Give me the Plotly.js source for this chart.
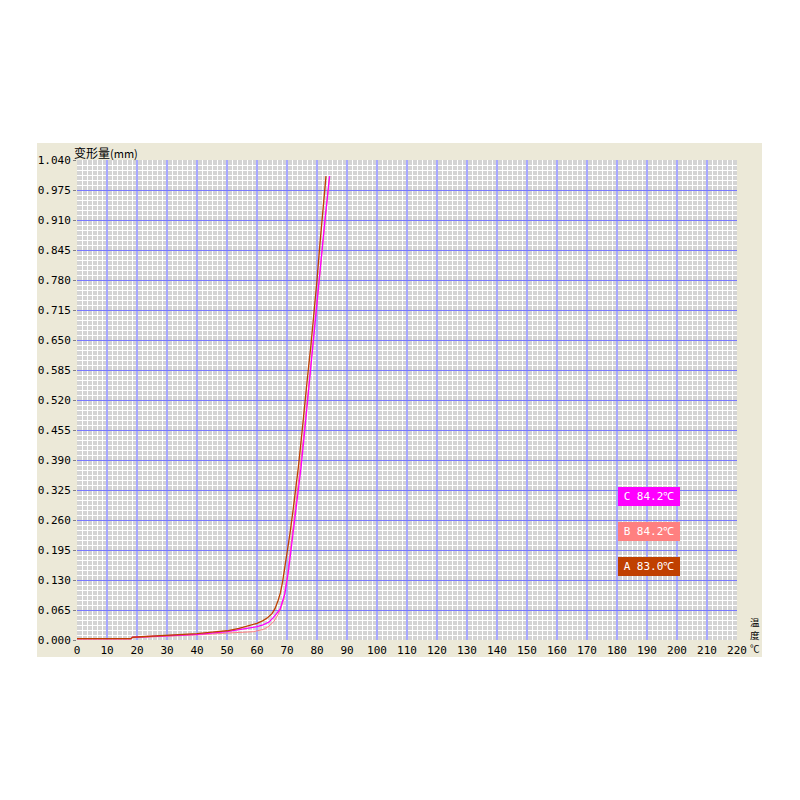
<!DOCTYPE html>
<html>
<head>
<meta charset="utf-8">
<script src="https://cdn.plot.ly/plotly-3.0.1.min.js"></script>
<style>html,body{margin:0;padding:0;background:#fff;}#chart{width:800px;height:800px;}</style>
</head>
<body>
<div id="chart"></div>
<script>
// Sample A (brown)
const tempA = [0, 18, 18.5, 25, 30, 35, 40, 45, 50, 54, 57, 60, 62, 63.5, 65, 66, 67, 67.8, 68.5, 69.5, 70, 71, 72, 73, 73.8, 75, 76, 77, 78, 78.8, 80, 81, 82, 82.7, 83.0];
const defA  = [0.003, 0.003, 0.006, 0.008, 0.010, 0.012, 0.014, 0.017, 0.020, 0.025, 0.030, 0.036, 0.042, 0.048, 0.057, 0.068, 0.085, 0.102, 0.125, 0.165, 0.19, 0.231, 0.28, 0.33, 0.375, 0.45, 0.52, 0.58, 0.64, 0.693, 0.78, 0.86, 0.94, 1.0, 1.005];
// Sample B (salmon)
const tempB = [0, 18, 18.5, 30, 40, 50, 55, 58.8, 62.2, 64, 65.6, 67, 68, 69, 70.3, 71.8, 73, 74.4, 76, 78, 79.4, 81, 82.5, 84.0, 84.2];
const defB  = [0.002, 0.002, 0.005, 0.008, 0.011, 0.015, 0.016, 0.018, 0.023, 0.030, 0.040, 0.055, 0.070, 0.090, 0.15, 0.231, 0.29, 0.375, 0.47, 0.60, 0.70, 0.80, 0.90, 1.0, 1.005];
// Sample C (magenta)
const tempC = [0, 18, 18.5, 30, 40, 50, 55, 58, 60, 62, 64, 65.5, 66.6, 67.7, 68.5, 69.3, 70.5, 72.1, 73, 74.7, 76, 78, 79.6, 81, 82.5, 84.1, 84.2];
const defC  = [0.003, 0.003, 0.006, 0.009, 0.012, 0.018, 0.023, 0.026, 0.029, 0.033, 0.039, 0.049, 0.058, 0.067, 0.084, 0.101, 0.15, 0.231, 0.28, 0.375, 0.46, 0.60, 0.70, 0.80, 0.90, 1.0, 1.005];

const seriesNames = ['C', 'B', 'A'];
const seriesResults = ['84.2', '84.2', '83.0'];
const legendY = [0.31, 0.235, 0.16];

const xTicks = [0,10,20,30,40,50,60,70,80,90,100,110,120,130,140,150,160,170,180,190,200,210,220];
const yTicks = [0.000,0.065,0.130,0.195,0.260,0.325,0.390,0.455,0.520,0.585,0.650,0.715,0.780,0.845,0.910,0.975,1.040];

const colA = '#c04000', colB = '#ff8080', colC = '#ff00ff';
const colors = [colC, colB, colA];

// minor gridline positions: 6 subdivisions per major cell, excluding the majors
function minorVals(majors) {
  const out = [];
  for (let i = 0; i < majors.length - 1; i++) {
    const a = majors[i], b = majors[i + 1];
    for (let k = 1; k < 6; k++) out.push(a + (b - a) * k / 6);
  }
  return out;
}

const traces = [
  {x: tempB, y: defB, mode: 'lines', line: {color: colB, width: 1}, hoverinfo: 'skip'},
  {x: tempC, y: defC, mode: 'lines', line: {color: colC, width: 1.3}, hoverinfo: 'skip'},
  {x: tempA, y: defA, mode: 'lines', line: {color: colA, width: 1.3}, hoverinfo: 'skip'}
];

const tickFont = {family: 'DejaVu Sans Mono, monospace', size: 11, color: '#000'};

const annotations = seriesNames.map((n, i) => ({
  xref: 'x', yref: 'y', x: 190.7, y: legendY[i],
  text: n + ' ' + seriesResults[i] + '℃',
  showarrow: false, width: 58, height: 15,
  bgcolor: colors[i], borderpad: 2, borderwidth: 0,
  font: {family: 'DejaVu Sans Mono, monospace', size: 11, color: '#fff'}
}));
annotations.push({
  xref: 'paper', yref: 'paper', x: -5/660, y: 1 + 8/480, xanchor: 'left', yanchor: 'middle',
  text: '变形量<span style="font-size:11px">(mm)</span>', showarrow: false,
  font: {family: 'Noto Sans CJK SC', size: 12, color: '#000'}
});
['温', '度', '℃'].forEach((ch, i) => {
  annotations.push({
    xref: 'paper', yref: 'paper', x: (755-77)/660, y: (640-(621.5 + i*13))/480, xanchor: 'center', yanchor: 'middle',
    text: ch, showarrow: false, borderpad: 0,
    font: {family: 'Noto Sans CJK SC', size: 9.5, color: '#000'}
  });
});

const layout = {
  width: 800, height: 800,
  margin: {l: 77, r: 63, t: 160, b: 160, pad: 0},
  paper_bgcolor: '#ffffff',
  plot_bgcolor: 'rgba(0,0,0,0)',
  showlegend: false,
  xaxis: {
    range: [0, 220], tickmode: 'array', tickvals: xTicks, ticktext: xTicks.map(String),
    showgrid: true, gridcolor: '#a8a8ff', gridwidth: 2, zeroline: false, showline: false,
    ticks: '', tickfont: tickFont, ticklabelstandoff: 2,
    minor: {tickmode: 'array', tickvals: minorVals(xTicks), showgrid: true, gridcolor: '#ffffff', gridwidth: 1, ticks: ''},
    fixedrange: true
  },
  yaxis: {
    range: [0, 1.04], tickmode: 'array', tickvals: yTicks, ticktext: yTicks.map(v => v.toFixed(3)),
    showgrid: true, gridcolor: '#7878ff', gridwidth: 1, zeroline: false, showline: false,
    ticks: 'outside', ticklen: 3, tickcolor: '#808080', tickfont: tickFont,
    minor: {tickmode: 'array', tickvals: minorVals(yTicks), showgrid: true, gridcolor: '#ffffff', gridwidth: 1, ticks: ''},
    fixedrange: true
  },
  shapes: [
    {type: 'rect', xref: 'paper', yref: 'paper', x0: (37-77)/660, x1: (762-77)/660, y0: (640-657)/480, y1: (640-143)/480,
     fillcolor: '#ece9d8', line: {width: 0}, layer: 'below'},
    {type: 'rect', xref: 'paper', yref: 'paper', x0: 0, x1: 1, y0: 0, y1: 1,
     fillcolor: '#d4d4d4', line: {width: 0}, layer: 'below'}
  ],
  annotations: annotations
};

Plotly.newPlot('chart', traces, layout, {staticPlot: true, displayModeBar: false});
</script>
</body>
</html>
